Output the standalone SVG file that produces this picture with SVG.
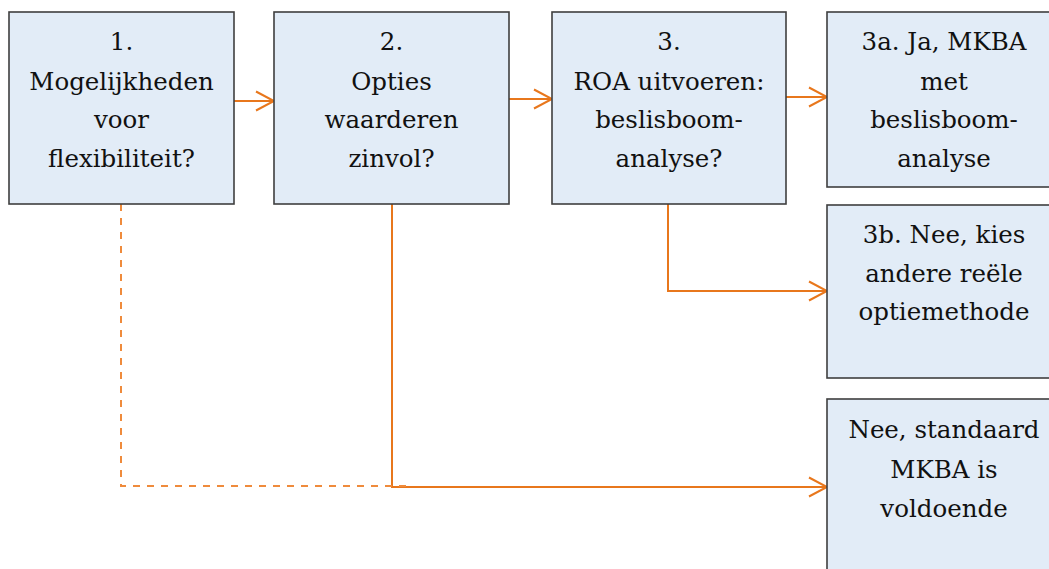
<svg xmlns="http://www.w3.org/2000/svg" width="1049" height="569" viewBox="0 0 1049 569">
  <style>
    .box { fill: #E2ECF7; stroke: #3F3F3F; stroke-width: 1.6; }
    .lbl { font-size: 24.5px; fill: #111111; text-anchor: middle; }
    .link { fill: none; stroke: #E8771C; stroke-width: 2; }
    .dash { fill: none; stroke: #EF8B3C; stroke-width: 2; stroke-dasharray: 7 7; }
  </style>
  <defs>
    <!-- open chevron arrowhead used by every orange connector -->
    <marker id="open" markerUnits="userSpaceOnUse" markerWidth="22" markerHeight="24" refX="19" refY="11" orient="auto">
      <path d="M1,1.5 L19,11 L1,20.5" fill="none" stroke="#E8771C" stroke-width="2"/>
    </marker>
  </defs>
  <rect width="1049" height="569" fill="#FFFFFF"/>

  <g id="connectors">
    <line class="link" x1="234" y1="101" x2="274" y2="101" marker-end="url(#open)"/>
    <line class="link" x1="509" y1="99" x2="552" y2="99" marker-end="url(#open)"/>
    <line class="link" x1="786" y1="97" x2="827" y2="97" marker-end="url(#open)"/>
    <polyline class="link" points="668,204 668,291 827,291" marker-end="url(#open)"/>
    <polyline class="link" points="392,204 392,487 827,487" marker-end="url(#open)"/>
    <polyline class="dash" points="121,204 121,486 413,486"/>
  </g>

  <g font-family="DejaVu Serif, serif">
  <g id="node1">
    <rect class="box" x="9" y="12" width="225" height="192"/>
    <text class="lbl" x="121.5" y="50">1.</text>
    <text class="lbl" x="121.5" y="90">Mogelijkheden</text>
    <text class="lbl" x="121.5" y="128">voor</text>
    <text class="lbl" x="121.5" y="167">flexibiliteit?</text>
  </g>

  <g id="node2">
    <rect class="box" x="274" y="12" width="235" height="192"/>
    <text class="lbl" x="391.5" y="50">2.</text>
    <text class="lbl" x="391.5" y="90">Opties</text>
    <text class="lbl" x="391.5" y="128">waarderen</text>
    <text class="lbl" x="391.5" y="167">zinvol?</text>
  </g>

  <g id="node3">
    <rect class="box" x="552" y="12" width="234" height="192"/>
    <text class="lbl" x="669" y="50">3.</text>
    <text class="lbl" x="669" y="90">ROA uitvoeren:</text>
    <text class="lbl" x="669" y="128">beslisboom-</text>
    <text class="lbl" x="669" y="167">analyse?</text>
  </g>

  <g id="node3a">
    <rect class="box" x="827" y="12" width="234" height="175"/>
    <text class="lbl" x="944" y="50">3a. Ja, MKBA</text>
    <text class="lbl" x="944" y="90">met</text>
    <text class="lbl" x="944" y="128">beslisboom-</text>
    <text class="lbl" x="944" y="167">analyse</text>
  </g>

  <g id="node3b">
    <rect class="box" x="827" y="205" width="234" height="173"/>
    <text class="lbl" x="944" y="243">3b. Nee, kies</text>
    <text class="lbl" x="944" y="282">andere reële</text>
    <text class="lbl" x="944" y="320">optiemethode</text>
  </g>

  <g id="node4">
    <rect class="box" x="827" y="399" width="234" height="190"/>
    <text class="lbl" x="944" y="438">Nee, standaard</text>
    <text class="lbl" x="944" y="478">MKBA is</text>
    <text class="lbl" x="944" y="517">voldoende</text>
  </g>
  </g>
</svg>
